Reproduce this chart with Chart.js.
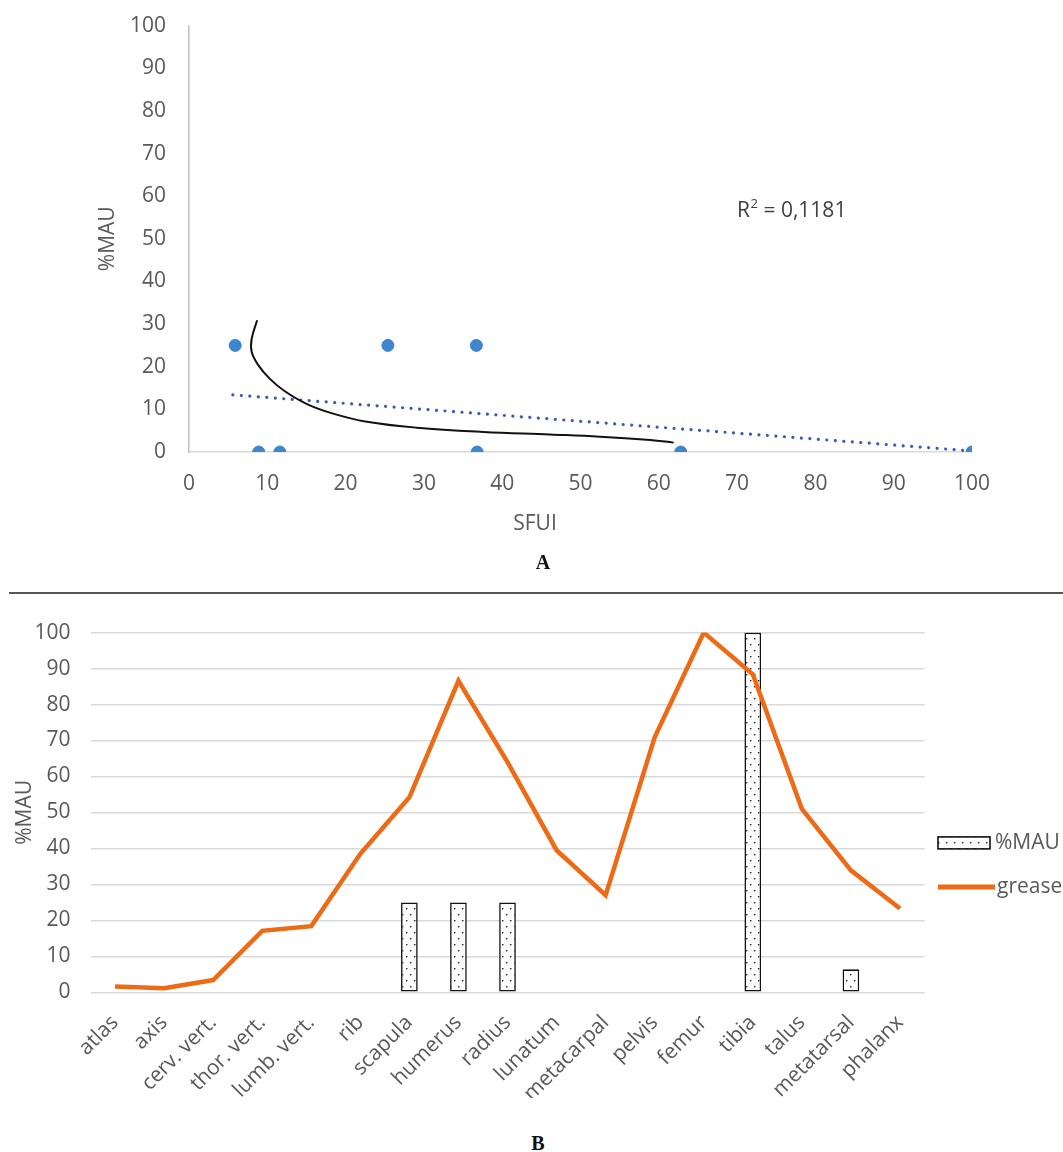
<!DOCTYPE html>
<html>
<head>
<meta charset="utf-8">
<title>%MAU vs SFUI and grease utility</title>
<script src="https://cdn.jsdelivr.net/npm/chart.js@4.4.1/dist/chart.umd.min.js"></script>
<style>
  html, body { margin: 0; padding: 0; background: #fff; }
  body { width: 1063px; height: 1152px; position: relative; overflow: hidden; font-family: "Open Sans", sans-serif; }
  #chartA { position: absolute; left: 0; top: -10px; }
  #chartB { position: absolute; left: 0; top: 600px; }
  .rule { position: absolute; left: 9px; top: 592px; width: 1054px; height: 2px; background: #555; }
  .panel { position: absolute; font-family: "Liberation Serif", serif; font-weight: bold; font-size: 20px; color: #111; transform: translate(-50%, -50%); }
  .xtitle { position: absolute; font-size: 21px; color: #595959; transform: translate(-50%, -50%); }
</style>
</head>
<body>
<canvas id="chartA" width="1063" height="545"></canvas>
<div class="xtitle" style="left:535px; top:522px;">SFUI</div>
<div class="panel" style="left:543px; top:562px;">A</div>
<div class="rule"></div>
<canvas id="chartB" width="1063" height="498"></canvas>
<div class="panel" style="left:538px; top:1143px;">B</div>
<script>
// ---- Panel A: %MAU against SFUI ----
const sfui = [5.9, 8.9, 11.6, 25.4, 36.7, 36.8, 62.8, 100];
const mauA = [25, 0, 0, 25, 25, 0, 0, 0];
// linear trend (dotted) end points
const trendX = [5.6, 99.5];
const trendY = [13.4, 0.3];
// hand-drawn curve
const curveX = [8.7, 8.0, 8.0, 8.8, 10.3, 12.2, 15.0, 18.4, 22.7, 29.1, 37.6, 46.1, 52.5, 58.9, 61.9];
const curveY = [30.9, 26.5, 23.5, 20.5, 17.2, 14.3, 11.3, 9.0, 7.1, 5.7, 4.7, 4.1, 3.6, 2.8, 2.2];
const r2Value = '0,1181';
const r2Anchor = [70, 56.4];

// ---- Panel B: %MAU and grease by skeletal element ----
const boneParts = ['atlas', 'axis', 'cerv. vert.', 'thor. vert.', 'lumb. vert.', 'rib', 'scapula', 'humerus',
  'radius', 'lunatum', 'metacarpal', 'pelvis', 'femur', 'tibia', 'talus', 'metatarsal', 'phalanx'];
const mauB = [0, 0, 0, 0, 0, 0, 25, 25, 25, 0, 0, 0, 0, 100, 0, 6.4, 0];
const grease = [1.6, 1.1, 3.4, 17.1, 18.4, 38.5, 54.2, 86.6, 64, 39.5, 27.0, 70.9, 100, 88.4, 51.0, 33.9, 23.3];

const FONT = '"Open Sans", sans-serif';
const TICK = '#595959';
const FS = 21;
const ORANGE = '#EE6A14';

function toPoints(xs, ys) { return xs.map((x, i) => ({ x: x, y: ys[i] })); }

// stippled fill for the %MAU bars
function dotPattern() {
  const c = document.createElement('canvas');
  c.width = 8; c.height = 12;
  const g = c.getContext('2d');
  g.fillStyle = '#ffffff';
  g.fillRect(0, 0, 8, 12);
  g.fillStyle = '#222222';
  g.fillRect(2, 2, 1.4, 1.4);
  g.fillRect(6, 8, 1.4, 1.4);
  return g.createPattern(c, 'repeat');
}
const stipple = dotPattern();

// R² annotation with superscript
const r2Label = {
  id: 'r2Label',
  afterDatasetsDraw(chart) {
    const ctx = chart.ctx;
    const x = chart.scales.x.getPixelForValue(r2Anchor[0]);
    const y = chart.scales.y.getPixelForValue(r2Anchor[1]);
    ctx.save();
    ctx.fillStyle = '#404040';
    ctx.textAlign = 'left';
    ctx.textBaseline = 'middle';
    ctx.font = FS + 'px ' + FONT;
    ctx.fillText('R', x, y);
    let cx = x + ctx.measureText('R').width;
    ctx.font = '13px ' + FONT;
    ctx.fillText('2', cx + 0.5, y - 7);
    cx += ctx.measureText('2').width + 0.5;
    ctx.font = FS + 'px ' + FONT;
    ctx.fillText(' = ' + r2Value, cx, y);
    ctx.restore();
  }
};

// legend for panel B, placed to the right of the plot
const sideLegend = {
  id: 'sideLegend',
  afterDraw(chart) {
    const ctx = chart.ctx;
    const a = chart.chartArea;
    const x0 = a.right + 13.5;
    const y1 = a.top + 210.3;
    const y2 = y1 + 44;
    ctx.save();
    // %MAU swatch
    ctx.fillStyle = stipple;
    ctx.fillRect(x0, y1 - 6, 52, 12);
    ctx.strokeStyle = '#111111';
    ctx.lineWidth = 1.6;
    ctx.strokeRect(x0, y1 - 6, 52, 12);
    // grease swatch
    ctx.strokeStyle = ORANGE;
    ctx.lineWidth = 5;
    ctx.beginPath();
    ctx.moveTo(x0, y2);
    ctx.lineTo(x0 + 57, y2);
    ctx.stroke();
    ctx.fillStyle = TICK;
    ctx.font = FS + 'px ' + FONT;
    ctx.textAlign = 'left';
    ctx.textBaseline = 'middle';
    ctx.fillText(chart.data.datasets[1].label, x0 + 57, y1);
    ctx.fillText(chart.data.datasets[0].label, x0 + 59, y2);
    ctx.restore();
  }
};

new Chart(document.getElementById('chartA'), {
  type: 'scatter',
  data: {
    datasets: [
      {
        label: '%MAU',
        data: toPoints(sfui, mauA),
        backgroundColor: '#3E86CF',
        borderColor: '#3E86CF',
        pointRadius: 6,
        pointHoverRadius: 6,
        order: 0
      },
      {
        label: 'Linear (%MAU)',
        type: 'line',
        data: toPoints(trendX, trendY),
        borderColor: '#3B5BAE',
        borderWidth: 3.2,
        borderDash: [0.01, 8.5],
        borderCapStyle: 'round',
        pointRadius: 0,
        fill: false,
        order: 2
      },
      {
        label: 'curve',
        type: 'line',
        data: toPoints(curveX, curveY),
        borderColor: '#111111',
        borderWidth: 2,
        tension: 0.4,
        pointRadius: 0,
        fill: false,
        order: 1
      }
    ]
  },
  options: {
    responsive: false,
    animation: false,
    events: [],
    layout: { padding: { top: 12, right: 91, left: 0, bottom: 0 } },
    plugins: { legend: { display: false }, tooltip: { enabled: false } },
    scales: {
      x: {
        type: 'linear', min: 0, max: 100,
        ticks: { stepSize: 10, padding: 19, color: TICK, font: { size: FS, family: FONT } },
        grid: { display: false, drawTicks: false },
        border: { display: true, color: '#d9d9d9', width: 1.5 },
        afterFit(s) { s.height = 83; }
      },
      y: {
        type: 'linear', min: 0, max: 100,
        ticks: { stepSize: 10, padding: 23, color: TICK, font: { size: FS, family: FONT } },
        grid: { display: false, drawTicks: false },
        border: { display: true, color: '#bfbfbf', width: 1.5 },
        title: { display: true, text: '%MAU', color: TICK, font: { size: FS, family: FONT }, padding: { top: 95, bottom: 0 } },
        afterFit(s) { s.width = 189; }
      }
    }
  },
  plugins: [r2Label]
});

new Chart(document.getElementById('chartB'), {
  type: 'bar',
  data: {
    labels: boneParts,
    datasets: [
      {
        type: 'line',
        label: 'grease',
        data: grease,
        borderColor: ORANGE,
        backgroundColor: ORANGE,
        borderWidth: 4.5,
        pointRadius: 0,
        tension: 0,
        fill: false,
        order: 0
      },
      {
        type: 'bar',
        label: '%MAU',
        data: mauB,
        backgroundColor: stipple,
        borderColor: '#111111',
        borderWidth: c => (c.raw ? 1.6 : 0),
        borderSkipped: false,
        barPercentage: 0.34,
        categoryPercentage: 1,
        order: 1
      }
    ]
  },
  options: {
    responsive: false,
    animation: false,
    events: [],
    layout: { padding: { top: 31.7, right: 138.5, left: 0, bottom: 0 } },
    plugins: { tooltip: { enabled: false }, legend: { display: false } },
    scales: {
      x: {
        grid: { display: false, drawTicks: false },
        border: { display: false },
        ticks: { maxRotation: 45, minRotation: 45, padding: 18, color: TICK, font: { size: FS, family: FONT } },
        afterFit(s) { s.height = 105.7; }
      },
      y: {
        min: 0, max: 100,
        ticks: { stepSize: 10, padding: 20, color: TICK, font: { size: FS, family: FONT } },
        grid: { color: '#d9d9d9', lineWidth: 1.5, drawTicks: false },
        border: { display: false },
        title: { display: true, text: '%MAU', color: TICK, font: { size: FS, family: FONT }, padding: { top: 12, bottom: 0 } },
        afterFit(s) { s.width = 90.5; }
      }
    }
  },
  plugins: [sideLegend]
});
</script>
</body>
</html>
